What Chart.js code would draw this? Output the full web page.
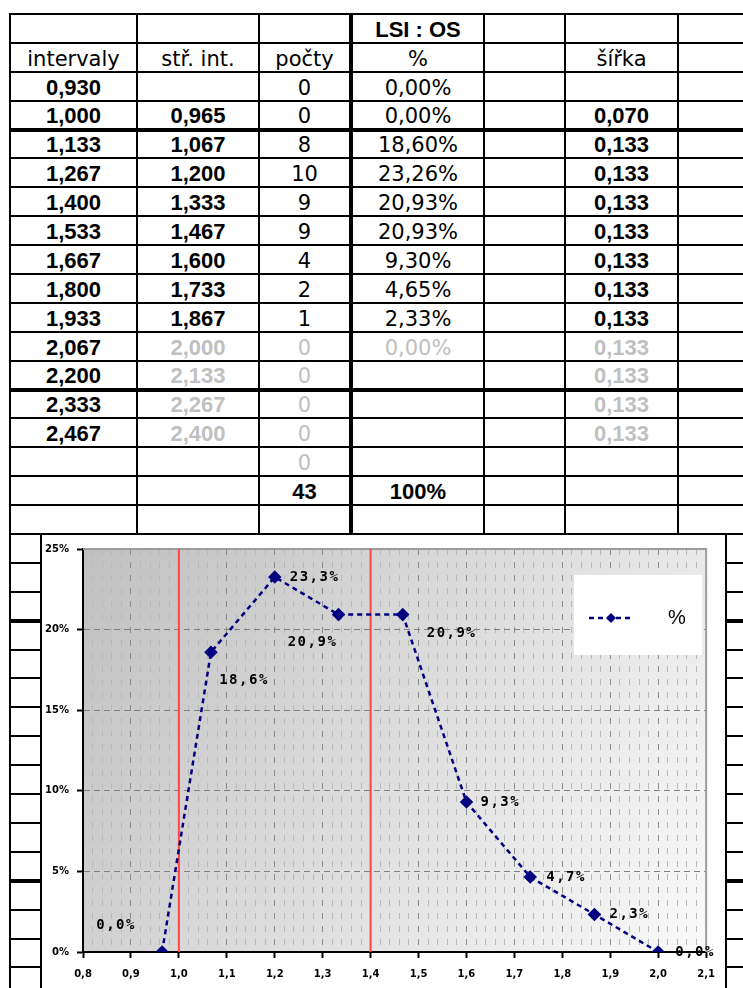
<!DOCTYPE html>
<html>
<head>
<meta charset="utf-8">
<script src="https://cdn.jsdelivr.net/npm/chart.js@4/dist/chart.umd.min.js"></script>
<style>
  html, body { margin: 0; padding: 0; background: #fff; width: 743px; height: 988px; overflow: hidden; position: relative; }
  #sheet { position: absolute; left: 9px; top: 13px; border-collapse: collapse; table-layout: fixed; width: 791px; }
  #sheet tr { height: 28.9px; }
  #sheet td { border: 2px solid #000; padding: 0 0 1px 0; text-align: center; vertical-align: bottom;
              font: 21px 'DejaVu Sans', sans-serif; line-height: 22px; white-space: nowrap; overflow: hidden; color: #000; }
  #sheet td:nth-child(4) { border-left: 4px solid #000; }
  #sheet tr.thick td { border-bottom: 4px solid #000; }
  #sheet td.b { font: bold 22px 'Liberation Sans', Arial, sans-serif; line-height: 22px; }
  #sheet td.g { color: #c0c0c0; }
  #box { position: absolute; left: 40px; top: 533px; width: 687px; height: 470px; box-sizing: border-box;
         border: 2px solid #000; background: #fff; }
  #graph { position: absolute; left: 0; top: 0; }
</style>
</head>
<body>
<table id="sheet">
  <colgroup>
    <col style="width:127px"><col style="width:122px"><col style="width:92px"><col style="width:133px">
    <col style="width:81px"><col style="width:113px"><col style="width:123px">
  </colgroup>
  <tbody id="rows"></tbody>
</table>
<div id="box"><canvas id="graph" width="683" height="460"></canvas></div>

<script>
// table values
const headers = ['intervaly', 'stř. int.', 'počty', '%', '', 'šířka', ''];
const intervaly = [0.930, 1.000, 1.133, 1.267, 1.400, 1.533, 1.667, 1.800, 1.933, 2.067, 2.200, 2.333, 2.467];
const strInt = [null, 0.965, 1.067, 1.200, 1.333, 1.467, 1.600, 1.733, 1.867, 2.000, 2.133, 2.267, 2.400];
const pocty = [0, 0, 8, 10, 9, 9, 4, 2, 1, 0, 0, 0, 0];
const procenta = [0.00, 0.00, 18.60, 23.26, 20.93, 20.93, 9.30, 4.65, 2.33, 0.00];
const sirka = [null, 0.070, 0.133, 0.133, 0.133, 0.133, 0.133, 0.133, 0.133, 0.133, 0.133, 0.133, 0.133];
const total = 43;
const totalPct = '100%';

// chart values
const chartX = strInt.slice(1, 10);
const chartY = procenta.slice(1, 10);
const hranice = [1.0, 1.4];
const seriesName = '%';

const num3 = v => v.toFixed(3).replace('.', ',');
const grayFrom = 9;

// build the sheet
const rows = [];
rows.push([{}, {}, {}, {t: 'LSI : OS', b: 1}, {}, {}, {}]);
rows.push(headers.map(h => ({t: h})));
intervaly.forEach((v, i) => {
  const g = i >= grayFrom;
  rows.push([
    {t: num3(v), b: 1},
    {t: strInt[i] == null ? '' : num3(strInt[i]), b: 1, g},
    {t: String(pocty[i]), g},
    {t: procenta[i] == null ? '' : procenta[i].toFixed(2).replace('.', ',') + '%', g},
    {},
    {t: sirka[i] == null ? '' : num3(sirka[i]), b: 1, g},
    {}
  ]);
});
rows.push([{}, {}, {t: '0', g: 1}, {}, {}, {}, {}]);
rows.push([{}, {}, {t: String(total), b: 1}, {t: totalPct, b: 1}, {}, {}, {}]);
while (rows.length < 34) rows.push([{}, {}, {}, {}, {}, {}, {}]);
const thickRows = [3, 12, 20, 29];

const tbody = document.getElementById('rows');
rows.forEach((r, ri) => {
  const tr = document.createElement('tr');
  if (thickRows.includes(ri)) tr.className = 'thick';
  r.forEach(c => {
    const td = document.createElement('td');
    td.textContent = c.t || '';
    if (c.b) td.classList.add('b');
    if (c.g) td.classList.add('g');
    tr.appendChild(td);
  });
  tbody.appendChild(tr);
});

// label placement next to each point
const labelPlace = [
  {dx: -46, dy: -27, align: 'center'},
  {dx: 33, dy: 28, align: 'center'},
  {dx: 15, dy: 0, align: 'left'},
  {dx: -26, dy: 28, align: 'center'},
  {dx: 24, dy: 19, align: 'left'},
  {dx: 14, dy: 0, align: 'left'},
  {dx: 16, dy: 0, align: 'left'},
  {dx: 15, dy: 0, align: 'left'},
  {dx: 17, dy: 0, align: 'left'},
];

const isMajor = v => Math.round(v * 100) % 10 === 0;

const plotBg = {
  id: 'plotBg',
  beforeDraw(chart) {
    const {ctx, chartArea: a} = chart;
    const gr = ctx.createLinearGradient(a.left, a.top, a.right, a.bottom);
    gr.addColorStop(0, '#c0c0c0');
    gr.addColorStop(1, '#fafafa');
    ctx.save();
    ctx.fillStyle = gr;
    ctx.fillRect(a.left, a.top, a.right - a.left, a.bottom - a.top);
    ctx.restore();
  },
  beforeDatasetsDraw(chart) {
    const {ctx, chartArea: a} = chart;
    ctx.save();
    ctx.strokeStyle = '#9c9c9c';
    ctx.lineWidth = 2;
    ctx.beginPath();
    ctx.moveTo(a.left, a.top);
    ctx.lineTo(a.right, a.top);
    ctx.lineTo(a.right, a.bottom);
    ctx.stroke();
    ctx.restore();
  }
};

const pointLabels = {
  id: 'pointLabels',
  afterDatasetsDraw(chart) {
    const {ctx} = chart;
    const meta = chart.getDatasetMeta(0);
    ctx.save();
    ctx.font = 'bold 14px "DejaVu Sans Mono", monospace';
    ctx.fillStyle = '#000';
    ctx.textBaseline = 'middle';
    if ('letterSpacing' in ctx) ctx.letterSpacing = '1.5px';
    meta.data.forEach((pt, i) => {
      const p = labelPlace[i];
      const txt = chartY[i].toFixed(1).replace('.', ',') + '%';
      ctx.textAlign = p.align;
      ctx.fillText(txt, pt.x + p.dx, pt.y + p.dy);
    });
    ctx.restore();
  }
};

const legendBox = {
  id: 'legendBox',
  afterDraw(chart) {
    const {ctx} = chart;
    const x = 532, y = 40, w = 128, h = 80;
    ctx.save();
    ctx.fillStyle = '#fff';
    ctx.fillRect(x, y, w, h);
    const cy = y + 43;
    ctx.strokeStyle = '#000080';
    ctx.lineWidth = 2.5;
    ctx.setLineDash([5, 4]);
    ctx.beginPath();
    ctx.moveTo(x + 15, cy);
    ctx.lineTo(x + 59, cy);
    ctx.stroke();
    ctx.setLineDash([]);
    ctx.fillStyle = '#000080';
    const mx = x + 37, r = 5;
    ctx.beginPath();
    ctx.moveTo(mx, cy - r); ctx.lineTo(mx + r, cy); ctx.lineTo(mx, cy + r); ctx.lineTo(mx - r, cy);
    ctx.closePath();
    ctx.fill();
    ctx.fillStyle = '#000';
    ctx.font = '20px "Liberation Sans", Arial, sans-serif';
    ctx.textBaseline = 'middle';
    ctx.fillText(chart.data.datasets[0].label, x + 94, cy);
    ctx.restore();
  }
};

const tickFont = {family: 'DejaVu Sans', size: 10, weight: 'bold'};

new Chart(document.getElementById('graph'), {
  type: 'scatter',
  data: {
    datasets: [
      {
        label: seriesName,
        data: chartX.map((x, i) => ({x: x, y: chartY[i]})),
        showLine: true,
        borderColor: '#000080',
        borderWidth: 2.5,
        borderDash: [5, 4],
        pointStyle: 'rectRot',
        pointRadius: 5,
        pointBackgroundColor: '#000080',
        pointBorderColor: '#000080',
        order: 0
      },
      ...hranice.map(b => ({
        label: '',
        data: [{x: b, y: 0}, {x: b, y: 25}],
        showLine: true,
        borderColor: '#ff4545',
        borderWidth: 2,
        pointRadius: 0,
        order: 1
      }))
    ]
  },
  options: {
    responsive: false,
    devicePixelRatio: 1,
    animation: false,
    layout: {autoPadding: false, padding: {left: 0, right: 11, top: 10, bottom: 0}},
    plugins: {legend: {display: false}, tooltip: {enabled: false}},
    scales: {
      x: {
        type: 'linear',
        min: 0.8,
        max: 2.1,
        afterFit: s => { s.height = 43; },
        ticks: {
          stepSize: 0.02,
          autoSkip: false,
          maxRotation: 0,
          minRotation: 0,
          padding: 10,
          color: '#000',
          font: tickFont,
          callback: v => isMajor(v) ? v.toFixed(1).replace('.', ',') : ''
        },
        grid: {
          color: c => (c.tick && isMajor(c.tick.value)) ? '#8a8a8a' : '#b8b8b8',
          lineWidth: 1,
          tickLength: 6,
          tickWidth: 2,
          tickColor: c => (c.tick && isMajor(c.tick.value)) ? '#000' : 'rgba(0,0,0,0)'
        },
        border: {display: true, color: '#000', width: 2, dash: [6, 7]}
      },
      y: {
        min: 0,
        max: 25,
        afterFit: s => { s.width = 41; },
        ticks: {
          stepSize: 5,
          padding: 8,
          color: '#000',
          font: tickFont,
          callback: v => v + '%'
        },
        grid: {
          color: '#808080',
          lineWidth: 1,
          tickLength: 6,
          tickWidth: 2,
          tickColor: '#000'
        },
        border: {display: true, color: '#000', width: 2, dash: [6, 4]}
      }
    }
  },
  plugins: [plotBg, pointLabels, legendBox]
});
</script>
</body>
</html>
